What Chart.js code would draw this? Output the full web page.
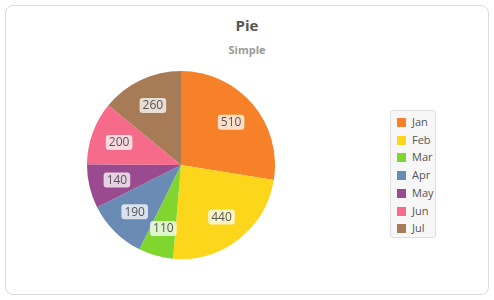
<!DOCTYPE html>
<html>
<head>
<meta charset="utf-8">
<script src="https://cdn.jsdelivr.net/npm/chart.js@4/dist/chart.umd.min.js"></script>
<style>
    html, body { margin: 0; padding: 0; background: #fff; }
    body { width: 494px; height: 300px; position: relative; overflow: hidden; font-family: "Open Sans", sans-serif; }
    .card { position: absolute; left: 5px; top: 5px; width: 482px; height: 288px; border: 1px solid #dcdcdc; border-radius: 8px; }
    .title { position: absolute; left: 0; width: 494px; top: 15px; text-align: center; font-size: 15px; font-weight: bold; color: #555; }
    .subtitle { position: absolute; left: 0; width: 494px; top: 42px; text-align: center; font-size: 11px; font-weight: bold; color: #999; }
    .pie-wrap { position: absolute; left: 87px; top: 71px; width: 188px; height: 188px; }
    .legend { position: absolute; left: 390px; top: 110px; width: 46px; height: 128px; background: #f7f7f7; border: 1px solid #dedede; border-radius: 3px; box-sizing: border-box; }
    .legend-item { position: absolute; left: 6px; height: 14px; font-size: 11px; color: #555; line-height: 14px; }
    .legend-item span { display: inline-block; width: 9px; height: 9px; margin-right: 6px; vertical-align: -1px; }
</style>
</head>
<body>
<div class="card"></div>
<div class="title">Pie</div>
<div class="subtitle">Simple</div>
<div class="pie-wrap"><canvas id="pie"></canvas></div>
<div class="legend" id="legend"></div>
<script>
const categories = ['Jan', 'Feb', 'Mar', 'Apr', 'May', 'Jun', 'Jul'];
const values = [510, 440, 110, 190, 140, 200, 260];
const colors = ['#f68128', '#fcd61a', '#80d62f', '#6a8bb3', '#9a4a8e', '#f76b8a', '#a77b56'];

// value labels in small white boxes
const boxLabels = {
    id: 'boxLabels',
    afterDatasetsDraw(chart) {
        const ctx = chart.ctx;
        const meta = chart.getDatasetMeta(0);
        ctx.save();
        ctx.font = '12px "Open Sans", sans-serif';
        ctx.textAlign = 'center';
        ctx.textBaseline = 'middle';
        meta.data.forEach((arc, i) => {
            const mid = (arc.startAngle + arc.endAngle) / 2;
            const r = arc.outerRadius * 0.7;
            const x = arc.x + Math.cos(mid) * r;
            const y = arc.y + Math.sin(mid) * r;
            const txt = String(values[i]);
            const w = ctx.measureText(txt).width + 6;
            const h = 15;
            ctx.fillStyle = 'rgba(255,255,255,0.75)';
            ctx.beginPath();
            ctx.roundRect(x - w / 2, y - h / 2, w, h, 3);
            ctx.fill();
            ctx.fillStyle = '#555';
            ctx.fillText(txt, x, y + 0.5);
        });
        ctx.restore();
    }
};

new Chart(document.getElementById('pie'), {
    type: 'pie',
    data: {
        labels: categories,
        datasets: [{
            data: values,
            backgroundColor: colors,
            borderWidth: 0
        }]
    },
    options: {
        responsive: true,
        maintainAspectRatio: false,
        animation: false,
        layout: { padding: 0 },
        plugins: {
            legend: { display: false },
            tooltip: { enabled: false }
        }
    },
    plugins: [boxLabels]
});

const legend = document.getElementById('legend');
categories.forEach((c, i) => {
    const item = document.createElement('div');
    item.className = 'legend-item';
    item.style.top = (4 + i * 17.7) + 'px';
    item.innerHTML = '<span style="background:' + colors[i] + '"></span>' + c;
    legend.appendChild(item);
});
</script>
</body>
</html>
